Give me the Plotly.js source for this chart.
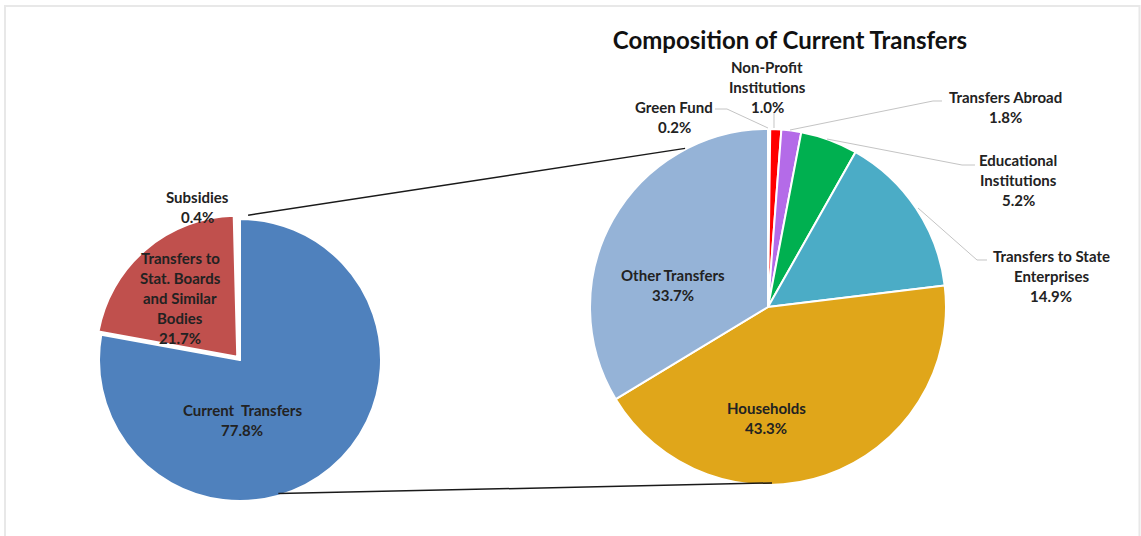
<!DOCTYPE html>
<html><head><meta charset="utf-8">
<script src="https://cdn.plot.ly/plotly-3.0.1.min.js"></script>
<style>html,body{margin:0;padding:0;background:#fff;}#chart{width:1141px;height:536px;}</style>
</head><body><div id="chart"></div>
<script>
// ---------- DATA ----------
const leftLabels = ['Current  Transfers', 'Transfers to Stat. Boards and Similar Bodies', 'Subsidies'];
const leftValues = [77.8, 21.7, 0.4];
const leftLabelLines = [['Current  Transfers'], ['Transfers to', 'Stat. Boards', 'and Similar', 'Bodies'], ['Subsidies']];

const rightLabels = ['Green Fund', 'Non-Profit Institutions', 'Transfers Abroad', 'Educational Institutions',
                     'Transfers to State Enterprises', 'Households', 'Other Transfers'];
const rightValues = [0.2, 1.0, 1.8, 5.2, 14.9, 43.3, 33.7];
const rightLabelLines = [['Green Fund'], ['Non-Profit', 'Institutions'], ['Transfers Abroad'], ['Educational', 'Institutions'],
                         ['Transfers to State', 'Enterprises'], ['Households'], ['Other Transfers']];

const chartTitle = 'Composition of Current Transfers';

// ---------- STYLE / LAYOUT ----------
const W = 1141, H = 536;
const leftColors = ['#4f81bd', '#c0504d', '#ffffff'];
const rightColors = ['#ffffff', '#ff0000', '#b46be8', '#00b050', '#4bacc6', '#e0a61a', '#95b3d7'];
const leftPull = [0, 0.03, 0];
const leftGeo = {cx: 240, cy: 360, r: 141};
const rightGeo = {cx: 768, cy: 307, r: 178};
// label anchor positions (center x, first line y) in pixels
const leftLabelPos = [[242, 410], [180, 258], [197, 197]];
const rightLabelPos = [[674, 107], [767, 67], [1005, 97], [1018, 160], [1051, 256], [766, 408], [673, 275]];
const lineStep = 20;
const labelFont = {family: 'Lato, "Open Sans", sans-serif', size: 15, weight: 700, color: '#222222'};

const px = x => x / W;
const py = y => 1 - y / H;

function domainFor(g, pullMax) {
  const R = g.r * (1 + pullMax);
  return {x: [px(g.cx - R), px(g.cx + R)], y: [py(g.cy + R), py(g.cy - R)]};
}
function polar(g, angDeg, rr) {
  const a = angDeg * Math.PI / 180;
  return [g.cx + rr * Math.sin(a), g.cy - rr * Math.cos(a)];
}

const traces = [
  {
    type: 'pie', values: leftValues, labels: leftLabels, sort: false, direction: 'clockwise', rotation: 0,
    pull: leftPull, marker: {colors: leftColors, line: {color: '#ffffff', width: 2}},
    textinfo: 'none', hoverinfo: 'label+percent', showlegend: false,
    domain: domainFor(leftGeo, Math.max(...leftPull))
  },
  {
    type: 'pie', values: rightValues, labels: rightLabels, sort: false, direction: 'clockwise', rotation: 0,
    marker: {colors: rightColors, line: {color: '#ffffff', width: 2}},
    textinfo: 'none', hoverinfo: 'label+percent', showlegend: false,
    domain: domainFor(rightGeo, 0)
  }
];

const annotations = [];
function addLabel(lines, value, pos) {
  const all = lines.concat([value.toFixed(1) + '%']);
  all.forEach((t, i) => {
    annotations.push({
      text: t, xref: 'paper', yref: 'paper', x: px(pos[0]), y: py(pos[1] + i * lineStep),
      xanchor: 'center', yanchor: 'middle', showarrow: false, font: labelFont
    });
  });
}
leftLabelLines.forEach((l, i) => addLabel(l, leftValues[i], leftLabelPos[i]));
rightLabelLines.forEach((l, i) => addLabel(l, rightValues[i], rightLabelPos[i]));

function pathOf(pts) {
  return pts.map((p, i) => (i ? 'L' : 'M') + px(p[0]).toFixed(5) + ',' + py(p[1]).toFixed(5)).join(' ');
}
const leaderLines = [
  [[715, 109], [727, 109], [768, 128]],
  [[774, 113], [774, 128]],
  [[790, 130], [933, 101], [942, 101]],
  [[827, 139], [962, 165], [975, 165]],
  [[918, 208], [977, 260], [987, 260]]
];
const shapes = [
  {type: 'rect', xref: 'paper', yref: 'paper', x0: px(5), x1: px(1139.5), y0: py(560), y1: py(6),
   line: {color: '#e8e8e8', width: 2}, fillcolor: 'rgba(0,0,0,0)', layer: 'below'}
];
leaderLines.forEach(pts => shapes.push({type: 'path', xref: 'paper', yref: 'paper', path: pathOf(pts),
  line: {color: '#c4c4c4', width: 1}}));
// connectors between the two pies (from left pie edge to right pie edge)
const conTop = [polar(leftGeo, 3.2, 145), polar(rightGeo, 332.4, 179)];
const conBot = [polar(leftGeo, 164, 139), polar(rightGeo, 178.7, 176)];
[conTop, conBot].forEach(pts => shapes.push({type: 'path', xref: 'paper', yref: 'paper', path: pathOf(pts),
  line: {color: '#1a1a1a', width: 1.5}}));

const layout = {
  width: W, height: H, margin: {l: 0, r: 0, t: 0, b: 0},
  paper_bgcolor: '#ffffff', plot_bgcolor: '#ffffff', showlegend: false,
  title: {text: chartTitle, x: px(790), xanchor: 'center', y: py(41), yanchor: 'middle',
          font: {family: 'Lato, "Open Sans", sans-serif', size: 24, weight: 700, color: '#111111'}},
  annotations: annotations, shapes: shapes
};
Plotly.newPlot('chart', traces, layout, {displayModeBar: false, staticPlot: true});
</script>
</body></html>
